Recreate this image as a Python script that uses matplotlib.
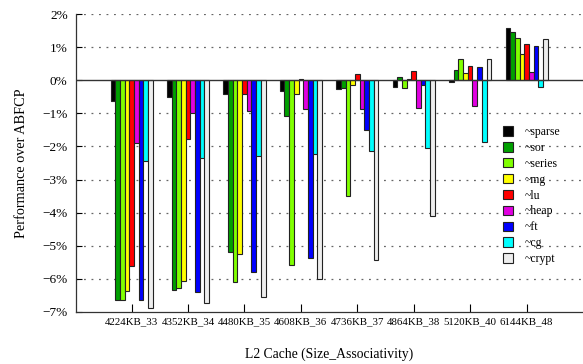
import matplotlib
matplotlib.use("Agg")
import matplotlib.pyplot as plt
import numpy as np

plt.rcParams['font.family'] = ['Liberation Serif', 'DejaVu Serif']

# configurations L2 (taille_associativite)
configs = ["4224KB_33", "4352KB_34", "4480KB_35", "4608KB_36",
           "4736KB_37", "4864KB_38", "5120KB_40", "6144KB_48"]

# gain de performance (%) par rapport a ABFCP, une liste par benchmark
sparse = [-0.62, -0.51, -0.42, -0.34, -0.27, -0.21, -0.06, 1.58]
sor    = [-6.63, -6.33, -5.20, -1.07, -0.22, 0.11, 0.30, 1.46]
series = [-6.63, -6.29, -6.08, -5.57, -3.51, -0.23, 0.65, 1.29]
mg     = [-6.38, -6.06, -5.24, -0.42, -0.13, 0.03, 0.23, 0.78]
lu     = [-5.61, -1.79, -0.43, 0.04, 0.19, 0.27, 0.44, 1.08]
heap   = [-1.91, -0.99, -0.92, -0.88, -0.86, -0.83, -0.77, 0.26]
ft     = [-6.63, -6.41, -5.80, -5.37, -1.50, -0.15, 0.39, 1.04]
cg     = [-2.44, -2.36, -2.28, -2.23, -2.15, -2.06, -1.87, -0.19]
crypt  = [-6.87, -6.72, -6.54, -6.01, -5.43, -4.09, 0.65, 1.25]

series_list = [("~sparse", sparse, "#000000"),
               ("~sor", sor, "#00a000"),
               ("~series", series, "#80ff00"),
               ("~mg", mg, "#ffff00"),
               ("~lu", lu, "#ff0000"),
               ("~heap", heap, "#e000e0"),
               ("~ft", ft, "#0000ff"),
               ("~cg", cg, "#00ffff"),
               ("~crypt", crypt, "#eeeeee")]

fig = plt.figure(figsize=(5.83, 3.64), dpi=100)
ax = fig.add_axes([0.1304, 0.1429, 0.8696, 0.8186])

x = np.arange(len(configs))
w = 0.083
for i, (nom, vals, coul) in enumerate(series_list):
    ax.bar(x + (i - 4) * w, vals, width=w, color=coul, edgecolor="#222222",
           linewidth=0.8, label=nom, zorder=3)

# lignes pointillees horizontales + ligne du zero
for yv in [-6, -5, -4, -3, -2, -1, 1, 2]:
    ax.axhline(yv, color="#666666", linewidth=0.9, linestyle=(0, (1.5, 4.5)), zorder=1)
ax.axhline(0, color="#333333", linewidth=1.0, zorder=4)

ax.set_xlim(-0.985, 8)
ax.set_ylim(-7, 2)
ax.set_xticks(x)
ax.set_xticklabels(configs, fontsize=7.8)
ax.set_yticks(np.arange(-7, 3))
ax.set_yticklabels(["\u2212%d%%" % (-v) if v < 0 else "%d%%" % v for v in range(-7, 3)],
                   fontsize=9.5)
ax.tick_params(axis="y", direction="in", length=4, width=0.8, pad=6)
ax.tick_params(axis="x", direction="in", length=6, width=0.8, pad=4)
ax.spines["top"].set_visible(False)
ax.spines["right"].set_visible(False)
for s in ["left", "bottom"]:
    ax.spines[s].set_linewidth(0.9)
    ax.spines[s].set_color("#333333")

ax.set_ylabel("Performance over ABFCP", fontsize=10.3, labelpad=10)
ax.set_xlabel("L2 Cache (Size_Associativity)", fontsize=9.8, labelpad=15)

leg = ax.legend(loc="upper left", bbox_to_anchor=(503 / 583, 1 - 126 / 364),
                bbox_transform=fig.transFigure, frameon=False, fontsize=8.5,
                handlelength=0.85, handleheight=0.85, handletextpad=1.0,
                labelspacing=0.33, borderpad=0, borderaxespad=0)

fig.savefig("out.png", dpi=100)
